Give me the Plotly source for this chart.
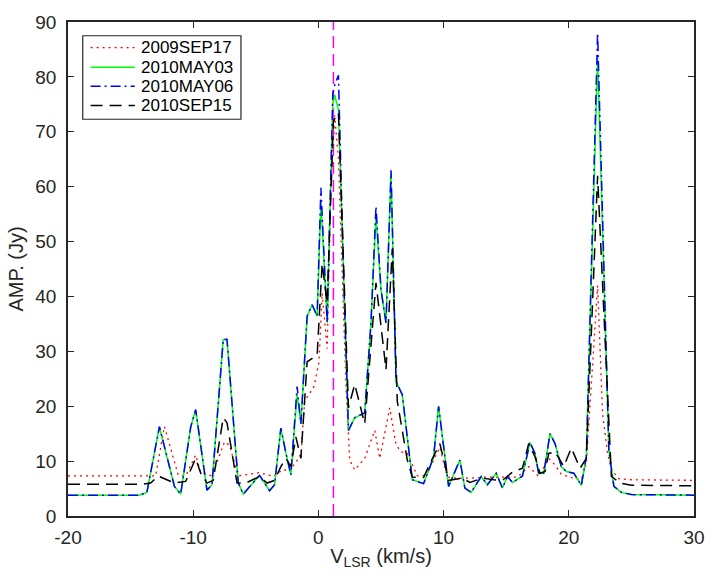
import plotly.graph_objects as go

# ---------------- data ----------------
# shared velocity grid for 2010MAY03 / 2010MAY06 (km/s)
v_may = [-20, -14.3, -13.7, -12.7, -11.5, -11.0, -10.2, -9.8, -8.9, -8.5,
         -7.6, -7.3, -6.4, -6.0, -4.7, -3.9, -3.5, -3.0, -2.6, -2.2,
         -1.7, -1.4, -0.9, -0.5, -0.1, 0.2, 0.7, 1.15, 1.3, 1.6,
         2.0, 2.4, 2.9, 3.7, 4.2, 4.6, 5.0, 5.4, 5.8, 6.2,
         6.7, 7.5, 8.4, 9.2, 9.6, 10.4, 11.3, 11.7, 12.2, 13.0,
         13.5, 14.2, 14.7, 15.1, 15.5, 16.3, 16.9, 17.3, 17.6, 18.0,
         18.5, 18.9, 19.4, 19.8, 20.4, 21.0, 21.4, 22.3, 23.2, 23.6,
         24.2, 25.0, 30]

amp_may03 = [3.8, 3.8, 4.3, 16.2, 5.4, 4.0, 16.2, 19.3, 4.7, 5.7,
             32.1, 32.1, 6.0, 4.0, 7.4, 4.6, 5.7, 16.0, 11.5, 7.5,
             22.1, 16.8, 36.4, 38.5, 36.4, 57.3, 35.2, 75.2, 76.7, 74.0,
             44.8, 15.6, 17.9, 18.8, 35.2, 54.5, 41.2, 35.2, 62.5, 24.5,
             22.1, 6.6, 5.9, 10.7, 20.0, 5.4, 10.2, 5.1, 4.3, 7.2,
             5.7, 7.8, 5.1, 7.2, 6.1, 7.3, 13.4, 11.4, 7.7, 7.8,
             15.0, 13.2, 9.0, 8.1, 7.8, 5.6, 10.8, 83.5, 12.0, 5.4,
             4.3, 3.9, 3.8]

amp_may06 = [3.8, 3.8, 4.3, 16.3, 5.4, 4.0, 16.2, 19.4, 4.7, 5.7,
             32.2, 32.2, 6.0, 4.0, 7.4, 4.6, 5.7, 16.0, 11.5, 7.5,
             23.6, 16.8, 36.4, 38.5, 36.4, 59.8, 35.2, 77.0, 78.5, 80.3,
             44.8, 15.6, 17.9, 18.8, 35.2, 56.4, 41.2, 35.2, 63.0, 24.5,
             22.1, 6.6, 5.9, 10.7, 20.0, 5.4, 10.2, 5.1, 4.3, 7.2,
             5.7, 7.8, 5.1, 7.2, 6.1, 7.3, 13.4, 11.4, 7.7, 7.8,
             15.0, 13.2, 9.0, 8.1, 7.8, 5.6, 10.8, 88.0, 12.0, 5.4,
             4.3, 3.9, 3.8]

v_sep15 = [-20, -14.0, -13.4, -12.8, -11.5, -10.6, -9.8, -9.4, -8.9, -8.4,
           -7.6, -7.3, -6.5, -5.8, -4.7, -4.1, -3.5, -3.0, -2.6, -2.2,
           -1.8, -1.4, -0.9, -0.1, 0.3, 0.7, 1.2, 1.6, 2.4, 2.9,
           3.7, 4.6, 5.4, 5.9, 6.3, 7.1, 7.5, 8.4, 8.9, 9.7,
           10.4, 11.5, 12.1, 13.1, 14.0, 14.7, 15.5, 16.3, 16.8, 17.3,
           17.7, 18.1, 18.4, 18.9, 19.6, 20.2, 20.9, 21.4, 22.3, 23.4,
           24.1, 25.0, 30]
amp_sep15 = [5.8, 5.8, 6.0, 7.3, 6.0, 6.3, 10.5, 7.8, 6.0, 6.5,
             17.9, 17.0, 6.0, 6.0, 7.2, 6.0, 6.5, 9.0, 10.5, 9.0,
             14.4, 10.5, 28.1, 29.3, 46.0, 38.8, 72.0, 73.5, 19.7, 24.0,
             16.8, 42.5, 26.7, 48.7, 20.9, 10.2, 7.1, 7.0, 9.5, 13.2,
             6.5, 6.9, 6.1, 6.9, 6.6, 6.5, 8.0, 8.7, 13.2, 10.8,
             7.8, 8.1, 11.4, 11.7, 9.0, 12.4, 8.7, 10.5, 62.0, 7.2,
             6.0, 5.6, 5.5]

v_sep17 = [-20, -13.0, -12.3, -11.2, -10.6, -9.8, -9.4, -8.5, -7.5, -7.1,
           -6.4, -4.7, -3.6, -2.8, -2.3, -1.8, -1.4, -1.1, -0.35, 0.05,
           0.3, 0.7, 1.0, 1.3, 1.6, 2.2, 2.5, 2.9, 3.7, 4.5,
           4.9, 5.7, 6.2, 6.6, 7.1, 7.9, 8.6, 9.7, 10.3, 11.0,
           12.2, 13.5, 15.9, 16.8, 17.6, 18.4, 18.9, 19.4, 20.2, 21.0,
           21.4, 21.8, 22.3, 22.7, 23.1, 23.4, 24.0, 25.0, 30]
amp_sep17 = [7.3, 7.3, 16.3, 7.5, 7.3, 11.1, 7.9, 7.3, 13.5, 12.9,
             7.3, 7.9, 7.2, 8.5, 8.1, 9.9, 10.8, 20.9, 23.6, 28.1,
             40.6, 30.5, 60.0, 73.0, 65.0, 24.0, 10.2, 8.4, 10.5, 15.6,
             10.5, 19.7, 13.0, 11.7, 11.4, 7.3, 7.4, 12.5, 7.1, 6.9,
             6.9, 7.1, 7.1, 9.0, 7.2, 10.5, 9.3, 7.6, 7.0, 6.6,
             9.6, 23.3, 42.0, 18.6, 11.4, 8.4, 6.8, 6.6, 6.5]

v_ref = 1.2          # vertical reference velocity (km/s)
x_ticks = [-20, -10, 0, 10, 20, 30]
x_tick_labels = ["-20", "-10", "0", "10", "20", "30"]
y_ticks = [0, 10, 20, 30, 40, 50, 60, 70, 80, 90]
y_tick_labels = [str(t) for t in y_ticks]

series_names = ["2009SEP17", "2010MAY03", "2010MAY06", "2010SEP15"]

FONT = "Liberation Sans, Arial, Helvetica, sans-serif"
AX = "#262626"
W, H = 717, 576
ML, MR, MT, MB = 68, 12, 14, 59

styles = [
    dict(color="#FF0000", width=1.3, dash="2px,4px"),
    dict(color="#00FF00", width=1.5, dash="solid"),
    dict(color="#0000FF", width=1.5, dash="10px,4px,2px,4px"),
    dict(color="#000000", width=1.5, dash="12px,7px"),
]

fig = go.Figure()

fig.add_trace(go.Scatter(x=[v_ref, v_ref], y=[y_ticks[0], y_ticks[-1]], mode="lines",
                         line=dict(color="#FF00FF", width=1.5, dash="12px,6px"),
                         showlegend=False, hoverinfo="skip"))

series = [(v_sep17, amp_sep17), (v_may, amp_may03), (v_may, amp_may06), (v_sep15, amp_sep15)]
for (xs, ys), name, st in zip(series, series_names, styles):
    fig.add_trace(go.Scatter(x=xs, y=ys, mode="lines", name=name, line=st, showlegend=False))

# ---- legend box drawn in paper coordinates (compact, MATLAB-like) ----
pw, ph = W - ML - MR, H - MT - MB
def px(xpix):
    return (xpix - ML) / pw
def py(ypix):
    return (H - MB - ypix) / ph

fig.add_shape(type="rect", xref="paper", yref="paper",
              x0=px(83), x1=px(244), y0=py(113), y1=py(28),
              line=dict(color=AX, width=1.2), fillcolor="white", layer="above")
row_y = [40, 60, 79.5, 99]
for name, st, ry in zip(series_names, styles, row_y):
    fig.add_shape(type="line", xref="paper", yref="paper",
                  x0=px(91), x1=px(136), y0=py(ry), y1=py(ry),
                  line=st, layer="above")
    fig.add_annotation(xref="paper", yref="paper", x=px(140), y=py(ry),
                       xanchor="left", yanchor="middle", showarrow=False,
                       text=name, font=dict(family=FONT, size=17, color="#000000"))

axis_common = dict(showline=True, linecolor=AX, linewidth=1.5, mirror="allticks",
                   ticks="inside", ticklen=6, tickwidth=1.2, tickcolor=AX,
                   showgrid=False, zeroline=False,
                   tickfont=dict(family=FONT, size=19, color=AX))

fig.update_xaxes(range=[-20, 30], tickvals=x_ticks, ticktext=x_tick_labels,
                 ticklabelstandoff=3,
                 title=dict(text="V<sub>LSR</sub> (km/s)", font=dict(family=FONT, size=20, color=AX),
                            standoff=2),
                 **axis_common)
fig.update_yaxes(range=[0, 90], tickvals=y_ticks, ticktext=y_tick_labels,
                 ticklabelstandoff=6,
                 title=dict(text="AMP. (Jy)", font=dict(family=FONT, size=20, color=AX),
                            standoff=6),
                 **axis_common)

fig.update_layout(
    width=W, height=H,
    margin=dict(l=ML, r=MR, t=MT, b=MB),
    paper_bgcolor="white", plot_bgcolor="white",
    font=dict(family=FONT, color=AX),
    showlegend=False,
)

fig.write_html("out.html")
